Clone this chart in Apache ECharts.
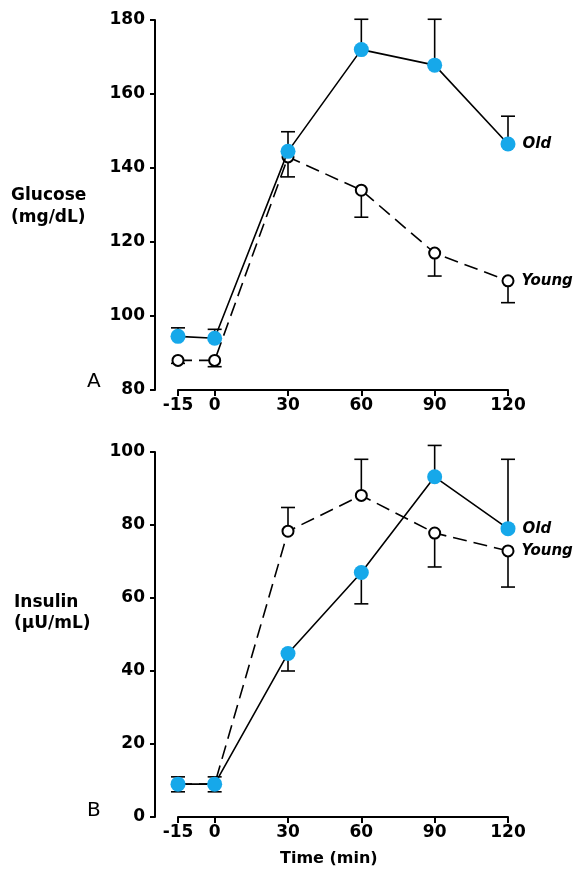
<!DOCTYPE html>
<html>
<head>
<meta charset="utf-8">
<script src="https://cdn.jsdelivr.net/npm/echarts@6/dist/echarts.min.js"></script>
<style>
html,body{margin:0;padding:0;background:#fff;}
#chart{width:577px;height:871px;}
</style>
</head>
<body>
<div id="chart"></div>
<script>
// ---- data ----
var timePoints = [-15, 0, 30, 60, 90, 120];
var xTickLabels = [-15, 0, 30, 60, 90, 120];

var glucoseOld = [94.5, 94, 144.5, 172, 167.8, 146.5];
var glucoseOldLow = [94.5, 94, 144.5, 172, 167.8, 146.5];
var glucoseOldHigh = [96.8, 96.4, 149.8, 180.2, 180.2, 154];
var glucoseYoung = [88, 88, 143, 134, 117, 109.5];
var glucoseYoungLow = [87.2, 86.3, 137.6, 126.7, 110.8, 103.6];
var glucoseYoungHigh = [88, 88, 143, 134, 117, 109.5];

var insulinOld = [9, 9, 44.8, 67, 93.2, 79];
var insulinOldLow = [6.9, 6.9, 40, 58.4, 93.2, 79];
var insulinOldHigh = [11, 11, 44.8, 67, 101.8, 98];
var insulinYoung = [9, 9, 78.3, 88.1, 77.8, 72.9];
var insulinYoungLow = [9, 9, 78.3, 88.1, 68.5, 63];
var insulinYoungHigh = [9, 9, 84.8, 98, 77.8, 72.9];

var glucoseTicks = {min: 80, max: 180, interval: 20};
var insulinTicks = {min: 0, max: 100, interval: 20};

// ---- helpers ----
var FONT = 'DejaVu Sans';
var BLUE = '#16a8ea';

function pairs(vals) {
  return timePoints.map(function (t, i) { return [t, vals[i]]; });
}
function errData(c, lo, hi) {
  return timePoints.map(function (t, i) { return [t, c[i], lo[i], hi[i]]; });
}
function renderErr(params, api) {
  var x = api.value(0), c = api.value(1), lo = api.value(2), hi = api.value(3);
  var pl = api.coord([x, lo]), ph = api.coord([x, hi]);
  var hw = 7;
  var st = {stroke: '#000', lineWidth: 1.6};
  var ch = [{type: 'line', shape: {x1: pl[0], y1: pl[1], x2: ph[0], y2: ph[1]}, style: st}];
  if (hi > c) ch.push({type: 'line', shape: {x1: ph[0] - hw, y1: ph[1], x2: ph[0] + hw, y2: ph[1]}, style: st});
  if (lo < c) ch.push({type: 'line', shape: {x1: pl[0] - hw, y1: pl[1], x2: pl[0] + hw, y2: pl[1]}, style: st});
  return {type: 'group', children: ch};
}
function withEndLabel(vals, text) {
  var d = pairs(vals);
  var last = d.length - 1;
  d[last] = {value: d[last], label: {show: true, position: 'right', distance: 7, formatter: text,
    fontFamily: FONT, fontWeight: 'bold', fontStyle: 'italic', fontSize: 15, color: '#000'}};
  return d;
}
function xAxisDef(gi) {
  return {
    type: 'value', gridIndex: gi, min: -15, max: 120, interval: 15,
    axisLine: {show: true, onZero: false, lineStyle: {color: '#000', width: 2}},
    axisTick: {show: true, length: 6, lineStyle: {color: '#000', width: 2}, customValues: xTickLabels},
    axisLabel: {show: true, margin: 7, customValues: xTickLabels, fontFamily: FONT, fontWeight: 'bold', fontSize: 17, color: '#000'},
    splitLine: {show: false}
  };
}
function yAxisDef(gi, t) {
  return {
    type: 'value', gridIndex: gi, min: t.min, max: t.max, interval: t.interval, offset: 23,
    axisLine: {show: true, onZero: false, lineStyle: {color: '#000', width: 2}},
    axisTick: {show: true, length: 5, lineStyle: {color: '#000', width: 2}},
    axisLabel: {show: true, margin: 10, fontFamily: FONT, fontWeight: 'bold', fontSize: 17, color: '#000'},
    splitLine: {show: false}
  };
}
function lineSeries(gi, data, old) {
  return {
    type: 'line', xAxisIndex: gi, yAxisIndex: gi, data: data, z: old ? 5 : 4,
    symbol: 'circle', symbolSize: old ? 15 : 11, animation: false,
    lineStyle: {color: '#000', width: 1.6, type: old ? 'solid' : [14, 7]},
    itemStyle: old ? {color: BLUE, borderWidth: 0} : {color: '#fff', borderColor: '#000', borderWidth: 2},
    emphasis: {disabled: true}
  };
}
function errSeries(gi, data) {
  return {type: 'custom', xAxisIndex: gi, yAxisIndex: gi, data: data, renderItem: renderErr,
    clip: false, z: 3, animation: false, encode: {x: 0, y: [1, 2, 3]}};
}

var chart = echarts.init(document.getElementById('chart'), null, {renderer: 'canvas'});
chart.setOption({
  backgroundColor: '#fff',
  animation: false,
  grid: [
    {left: 178, width: 330, top: 20, height: 370},
    {left: 178, width: 330, top: 452, height: 365}
  ],
  xAxis: [xAxisDef(0), xAxisDef(1)],
  yAxis: [yAxisDef(0, glucoseTicks), yAxisDef(1, insulinTicks)],
  series: [
    errSeries(0, errData(glucoseYoung, glucoseYoungLow, glucoseYoungHigh)),
    errSeries(0, errData(glucoseOld, glucoseOldLow, glucoseOldHigh)),
    lineSeries(0, withEndLabel(glucoseYoung, 'Young'), false),
    lineSeries(0, withEndLabel(glucoseOld, 'Old'), true),
    errSeries(1, errData(insulinYoung, insulinYoungLow, insulinYoungHigh)),
    errSeries(1, errData(insulinOld, insulinOldLow, insulinOldHigh)),
    lineSeries(1, withEndLabel(insulinYoung, 'Young'), false),
    lineSeries(1, withEndLabel(insulinOld, 'Old'), true)
  ],
  graphic: [
    {type: 'text', left: 11, top: 185, style: {text: 'Glucose\n(mg/dL)', font: 'bold 17px "DejaVu Sans"', fill: '#000', lineHeight: 22, align: 'left'}},
    {type: 'text', left: 14, top: 592, style: {text: 'Insulin\n(µU/mL)', font: 'bold 17px "DejaVu Sans"', fill: '#000', lineHeight: 21, align: 'left'}},
    {type: 'text', left: 87, top: 372, style: {text: 'A', font: '20px "DejaVu Sans"', fill: '#000'}},
    {type: 'text', left: 87, top: 801, style: {text: 'B', font: '20px "DejaVu Sans"', fill: '#000'}},
    {type: 'text', left: 280, top: 851, style: {text: 'Time (min)', font: 'bold 16px "DejaVu Sans"', fill: '#000'}}
  ]
});
</script>
</body>
</html>
